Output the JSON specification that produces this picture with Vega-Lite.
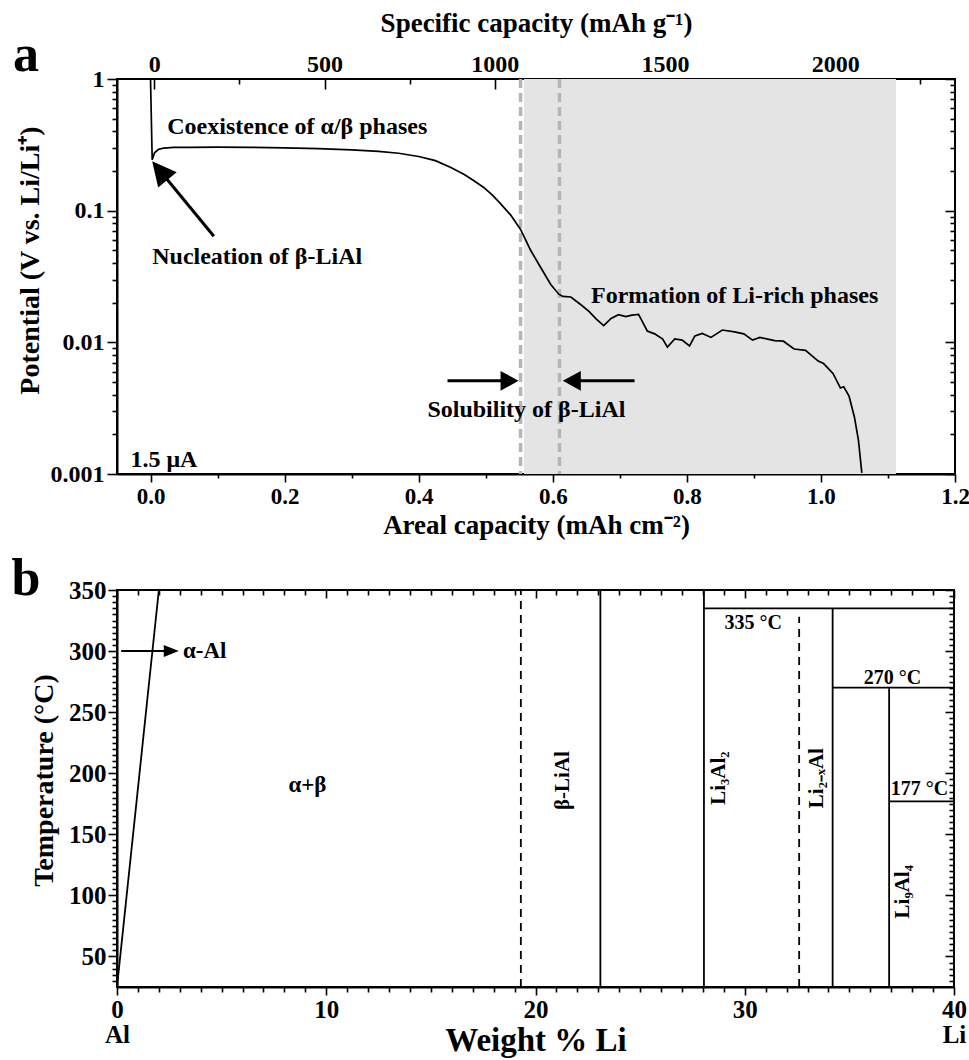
{
  "$schema": "https://vega.github.io/schema/vega-lite/v6.json",
  "padding": {"left": 10, "top": 8, "right": 10, "bottom": 0},
  "bounds": "flush",
  "spacing": 116,
  "config": {
    "font": "Liberation Serif",
    "view": {"stroke": "#000", "strokeWidth": 2},
    "axis": {
      "labelFont": "Liberation Serif", "labelFontWeight": "bold", "labelFontSize": 24, "labelColor": "#000",
      "titleFont": "Liberation Serif", "titleFontWeight": "bold", "titleFontSize": 27, "titleColor": "#000",
      "domainColor": "#000", "domainWidth": 2, "tickColor": "#000", "tickWidth": 1.6,
      "grid": false, "labelOverlap": false, "labelFlush": false, "labelBound": false
    },
    "text": {"font": "Liberation Serif", "fontWeight": "bold", "color": "#000"}
  },
  "datasets": {
    "potential_curve": [
      {"areal": 0, "potential": 1.0},
      {"areal": 0.0025, "potential": 0.244},
      {"areal": 0.006, "potential": 0.275},
      {"areal": 0.012, "potential": 0.292},
      {"areal": 0.02, "potential": 0.299},
      {"areal": 0.035, "potential": 0.302},
      {"areal": 0.06, "potential": 0.303},
      {"areal": 0.1, "potential": 0.304},
      {"areal": 0.15, "potential": 0.303},
      {"areal": 0.2, "potential": 0.300},
      {"areal": 0.25, "potential": 0.296},
      {"areal": 0.3, "potential": 0.290},
      {"areal": 0.34, "potential": 0.282},
      {"areal": 0.37, "potential": 0.273},
      {"areal": 0.4, "potential": 0.258},
      {"areal": 0.425, "potential": 0.240},
      {"areal": 0.448, "potential": 0.213},
      {"areal": 0.468, "potential": 0.188},
      {"areal": 0.483, "potential": 0.168},
      {"areal": 0.497, "potential": 0.150},
      {"areal": 0.51, "potential": 0.131},
      {"areal": 0.522, "potential": 0.113},
      {"areal": 0.537, "potential": 0.093},
      {"areal": 0.552, "potential": 0.072},
      {"areal": 0.567, "potential": 0.050},
      {"areal": 0.582, "potential": 0.037},
      {"areal": 0.597, "potential": 0.0275},
      {"areal": 0.609, "potential": 0.0232},
      {"areal": 0.615, "potential": 0.0223},
      {"areal": 0.627, "potential": 0.0221},
      {"areal": 0.642, "potential": 0.0193},
      {"areal": 0.654, "potential": 0.0172},
      {"areal": 0.665, "potential": 0.0150},
      {"areal": 0.676, "potential": 0.0134},
      {"areal": 0.687, "potential": 0.0152},
      {"areal": 0.698, "potential": 0.0162},
      {"areal": 0.709, "potential": 0.0157},
      {"areal": 0.718, "potential": 0.0161},
      {"areal": 0.728, "potential": 0.0163},
      {"areal": 0.741, "potential": 0.0122},
      {"areal": 0.752, "potential": 0.0116},
      {"areal": 0.764, "potential": 0.0106},
      {"areal": 0.771, "potential": 0.0092},
      {"areal": 0.782, "potential": 0.0106},
      {"areal": 0.793, "potential": 0.0104},
      {"areal": 0.804, "potential": 0.0094},
      {"areal": 0.812, "potential": 0.0112},
      {"areal": 0.823, "potential": 0.0117},
      {"areal": 0.836, "potential": 0.0109},
      {"areal": 0.853, "potential": 0.0124},
      {"areal": 0.871, "potential": 0.0120},
      {"areal": 0.885, "potential": 0.0116},
      {"areal": 0.898, "potential": 0.0104},
      {"areal": 0.909, "potential": 0.0109},
      {"areal": 0.931, "potential": 0.0103},
      {"areal": 0.944, "potential": 0.0102},
      {"areal": 0.960, "potential": 0.0089},
      {"areal": 0.977, "potential": 0.0087},
      {"areal": 0.996, "potential": 0.0072},
      {"areal": 1.004, "potential": 0.0069},
      {"areal": 1.018, "potential": 0.0058},
      {"areal": 1.029, "potential": 0.0045},
      {"areal": 1.034, "potential": 0.0046},
      {"areal": 1.042, "potential": 0.0039},
      {"areal": 1.050, "potential": 0.0027},
      {"areal": 1.056, "potential": 0.0018},
      {"areal": 1.061, "potential": 0.00102}
    ],
    "li_rich_window": [{"from": 0.557, "to": 1.112}],
    "solubility_limits": [{"areal": 0.552}, {"areal": 0.610}],
    "arrow_shafts_a": [
      {"areal": 0.0945, "potential": 0.0639, "areal2": 0.012, "potential2": 0.207},
      {"areal": 0.443, "potential": 0.0051, "areal2": 0.535, "potential2": 0.0051},
      {"areal": 0.722, "potential": 0.0051, "areal2": 0.629, "potential2": 0.0051}
    ],
    "nucleation_tip": [{"areal": 0.0025, "potential": 0.237}],
    "solubility_tip_right": [{"areal": 0.549, "potential": 0.0051}],
    "solubility_tip_left": [{"areal": 0.615, "potential": 0.0051}],
    "notes_a": [
      {"text": "Coexistence of α/β phases", "areal": 0.025, "potential": 0.43},
      {"text": "Nucleation of β-LiAl", "areal": 0.0025, "potential": 0.0445},
      {"text": "Formation of Li-rich phases", "areal": 0.657, "potential": 0.0225},
      {"text": "Solubility of β-LiAl", "areal": 0.413, "potential": 0.00305},
      {"text": "1.5 μA", "areal": -0.03, "potential": 0.00128}
    ],
    "tag_a": [{"tag": "a", "areal": -0.05, "potential": 1}],
    "axis_anchor": [{"v": 0.01}],
    "phase_lines": [
      {"w": 0, "t": 25, "w2": 2, "t2": 350},
      {"w": 23.1, "t": 25, "w2": 23.1, "t2": 350},
      {"w": 28.05, "t": 25, "w2": 28.05, "t2": 350},
      {"w": 28.05, "t": 335, "w2": 40, "t2": 335},
      {"w": 34.2, "t": 25, "w2": 34.2, "t2": 335},
      {"w": 34.2, "t": 270, "w2": 40, "t2": 270},
      {"w": 36.9, "t": 25, "w2": 36.9, "t2": 270},
      {"w": 36.9, "t": 177, "w2": 40, "t2": 177}
    ],
    "solvus_lines": [
      {"w": 19.3, "t": 25, "w2": 19.3, "t2": 350},
      {"w": 32.6, "t": 25, "w2": 32.6, "t2": 328}
    ],
    "alpha_arrow": [{"w": 0.2, "t": 300, "w2": 2.4, "t2": 300}],
    "alpha_tip": [{"w": 2.95, "t": 300}],
    "alpha_label": [{"text": "α-Al", "w": 3.15, "t": 300}],
    "region_labels": [
      {"text": "α+β", "w": 9.1, "t": 190}
    ],
    "temperature_labels": [
      {"text": "335 °C", "w": 30.4, "t": 323},
      {"text": "270 °C", "w": 37.06, "t": 278},
      {"text": "177 °C", "w": 38.35, "t": 187}
    ],
    "compound_labels": [
      {"text": "β-LiAl", "w": 21.3, "t": 194},
      {"text": "Li₃Al₂", "w": 28.78, "t": 196},
      {"text": "Li₂₋ₓAl", "w": 33.47, "t": 196},
      {"text": "Li₉Al₄", "w": 37.55, "t": 103}
    ],
    "tag_b": [{"tag": "b", "w": 0, "t": 350}]
  },
  "vconcat": [
    {
      "width": 838,
      "height": 395,
      "resolve": {"scale": {"x": "independent", "y": "independent"}},
      "layer": [
        {
          "layer": [
            {
              "data": {"name": "li_rich_window"},
              "mark": {"type": "rect", "color": "#e4e4e4"},
              "encoding": {
                "x": {"field": "from", "type": "quantitative", "scale": {"domain": [-0.05, 1.2], "nice": false, "zero": false},
                  "axis": {
                    "orient": "bottom",
                    "values": [0, 0.2, 0.4, 0.6, 0.8, 1.0, 1.2],
                    "format": ".1f",
                    "tickSize": 8,
                    "labelPadding": 3,
                    "labelFontSize": 23,
                    "labelOverlap": false,
                    "title": "Areal capacity (mAh cm⁻²)",
                    "titleY": 59, "titleBaseline": "alphabetic"
                  }},
                "x2": {"field": "to"}
              }
            },
            {
              "data": {"name": "solubility_limits"},
              "mark": {"type": "rule", "color": "#b5b5b5", "strokeWidth": 3.5, "strokeDash": [9, 5]},
              "encoding": {
                "x": {"field": "areal", "type": "quantitative", "scale": {"domain": [-0.05, 1.2], "nice": false, "zero": false}}
              }
            },
            {
              "data": {"name": "potential_curve"},
              "mark": {"type": "line", "color": "#000", "strokeWidth": 1.7, "clip": true},
              "encoding": {
                "x": {"field": "areal", "type": "quantitative", "scale": {"domain": [-0.05, 1.2], "nice": false, "zero": false}},
                "y": {"field": "potential", "type": "quantitative",
                  "scale": {"type": "log", "domain": [0.001, 1], "nice": false},
                  "axis": {
                    "orient": "left",
                    "values": [0.001, 0.01, 0.1, 1],
                    "format": "~g",
                    "tickSize": 10,
                    "labelPadding": 3,
                    "labelOverlap": false,
                    "title": "Potential (V vs. Li/Li⁺)",
                    "titleFontSize": 28,
                    "titleX": -79, "titleY": 181, "titleBaseline": "alphabetic"
                  }}
              }
            },
            {
              "data": {"name": "arrow_shafts_a"},
              "mark": {"type": "rule", "color": "#000", "strokeWidth": 3},
              "encoding": {
                "x": {"field": "areal", "type": "quantitative", "scale": {"domain": [-0.05, 1.2], "nice": false, "zero": false}},
                "y": {"field": "potential", "type": "quantitative", "scale": {"type": "log", "domain": [0.001, 1], "nice": false}},
                "x2": {"field": "areal2"},
                "y2": {"field": "potential2"}
              }
            },
            {
              "data": {"name": "nucleation_tip"},
              "mark": {"type": "point", "shape": "M0,0L-0.5,1L0.5,1Z", "size": 2304, "angle": 320.6, "filled": true, "color": "#000", "opacity": 1},
              "encoding": {
                "x": {"field": "areal", "type": "quantitative", "scale": {"domain": [-0.05, 1.2], "nice": false, "zero": false}},
                "y": {"field": "potential", "type": "quantitative", "scale": {"type": "log", "domain": [0.001, 1], "nice": false}}
              }
            },
            {
              "data": {"name": "solubility_tip_right"},
              "mark": {"type": "point", "shape": "M0,0L-0.55,1L0.55,1Z", "size": 1296, "angle": 90, "filled": true, "color": "#000", "opacity": 1},
              "encoding": {
                "x": {"field": "areal", "type": "quantitative", "scale": {"domain": [-0.05, 1.2], "nice": false, "zero": false}},
                "y": {"field": "potential", "type": "quantitative", "scale": {"type": "log", "domain": [0.001, 1], "nice": false}}
              }
            },
            {
              "data": {"name": "solubility_tip_left"},
              "mark": {"type": "point", "shape": "M0,0L-0.55,1L0.55,1Z", "size": 1296, "angle": 270, "filled": true, "color": "#000", "opacity": 1},
              "encoding": {
                "x": {"field": "areal", "type": "quantitative", "scale": {"domain": [-0.05, 1.2], "nice": false, "zero": false}},
                "y": {"field": "potential", "type": "quantitative", "scale": {"type": "log", "domain": [0.001, 1], "nice": false}}
              }
            },
            {
              "data": {"name": "notes_a"},
              "mark": {"type": "text", "fontSize": 24, "align": "left", "baseline": "middle"},
              "encoding": {
                "x": {"field": "areal", "type": "quantitative", "scale": {"domain": [-0.05, 1.2], "nice": false, "zero": false}},
                "y": {"field": "potential", "type": "quantitative", "scale": {"type": "log", "domain": [0.001, 1], "nice": false}},
                "text": {"field": "text"}
              }
            },
            {
              "data": {"name": "tag_a"},
              "mark": {"type": "text", "fontSize": 52, "align": "center", "baseline": "alphabetic", "dx": -91, "dy": -8},
              "encoding": {
                "x": {"field": "areal", "type": "quantitative", "scale": {"domain": [-0.05, 1.2], "nice": false, "zero": false}},
                "y": {"field": "potential", "type": "quantitative", "scale": {"type": "log", "domain": [0.001, 1], "nice": false}},
                "text": {"field": "tag"}
              }
            }
          ]
        },
        {
          "data": {"name": "axis_anchor"},
          "mark": {"type": "point", "opacity": 0},
          "encoding": {
            "x": {"field": "v", "type": "quantitative", "scale": {"domain": [-0.05, 1.2], "nice": false, "zero": false},
              "axis": {"orient": "bottom", "values": [0.1, 0.3, 0.5, 0.7, 0.9, 1.1], "tickSize": 4, "labels": false, "domain": false, "title": null}},
            "y": {"field": "v", "type": "quantitative", "scale": {"type": "log", "domain": [0.001, 1], "nice": false}, "axis": null}
          }
        },
        {
          "data": {"name": "axis_anchor"},
          "mark": {"type": "point", "opacity": 0},
          "encoding": {
            "x": {"field": "v", "type": "quantitative", "scale": {"domain": [-0.05, 1.2], "nice": false, "zero": false}, "axis": null},
            "y": {"field": "v", "type": "quantitative", "scale": {"type": "log", "domain": [0.001, 1], "nice": false},
              "axis": {"orient": "left",
                "values": [0.002, 0.003, 0.004, 0.005, 0.006, 0.007, 0.008, 0.009, 0.02, 0.03, 0.04, 0.05, 0.06, 0.07, 0.08, 0.09, 0.2, 0.3, 0.4, 0.5, 0.6, 0.7, 0.8, 0.9],
                "tickSize": 5, "labels": false, "domain": false, "title": null}}
          }
        },
        {
          "data": {"name": "axis_anchor"},
          "mark": {"type": "point", "opacity": 0},
          "encoding": {
            "x": {"field": "v", "type": "quantitative",
              "scale": {"domain": [-109.5, 2351.5], "nice": false, "zero": false},
              "axis": {
                "orient": "top",
                "values": [0, 500, 1000, 1500, 2000],
                "format": "d",
                "tickSize": -10,
                "labelPadding": 13,
                "labelOverlap": false,
                "domain": false,
                "title": "Specific capacity (mAh g⁻¹)",
                "titleY": -48, "titleBaseline": "alphabetic"
              }},
            "y": {"field": "v", "type": "quantitative", "scale": {"type": "log", "domain": [0.001, 1], "nice": false}, "axis": null}
          }
        },
        {
          "data": {"name": "axis_anchor"},
          "mark": {"type": "point", "opacity": 0},
          "encoding": {
            "x": {"field": "v", "type": "quantitative",
              "scale": {"domain": [-109.5, 2351.5], "nice": false, "zero": false},
              "axis": {"orient": "top", "values": [250, 750, 1250, 1750, 2250], "tickSize": -5, "labels": false, "domain": false, "title": null}},
            "y": {"field": "v", "type": "quantitative", "scale": {"type": "log", "domain": [0.001, 1], "nice": false}, "axis": null}
          }
        },
        {
          "data": {"name": "axis_anchor"},
          "mark": {"type": "point", "opacity": 0},
          "encoding": {
            "x": {"field": "v", "type": "quantitative", "scale": {"domain": [-0.05, 1.2], "nice": false, "zero": false}, "axis": null},
            "y": {"field": "v", "type": "quantitative", "scale": {"type": "log", "domain": [0.001, 1], "nice": false},
              "axis": {"orient": "right", "values": [0.001, 0.01, 0.1, 1], "tickSize": -10, "labels": false, "domain": false, "title": null}}
          }
        },
        {
          "data": {"name": "axis_anchor"},
          "mark": {"type": "point", "opacity": 0},
          "encoding": {
            "x": {"field": "v", "type": "quantitative", "scale": {"domain": [-0.05, 1.2], "nice": false, "zero": false}, "axis": null},
            "y": {"field": "v", "type": "quantitative", "scale": {"type": "log", "domain": [0.001, 1], "nice": false},
              "axis": {"orient": "right",
                "values": [0.002, 0.003, 0.004, 0.005, 0.006, 0.007, 0.008, 0.009, 0.02, 0.03, 0.04, 0.05, 0.06, 0.07, 0.08, 0.09, 0.2, 0.3, 0.4, 0.5, 0.6, 0.7, 0.8, 0.9],
                "tickSize": -5, "labels": false, "domain": false, "title": null}}
          }
        }
      ]
    },
    {
      "width": 837,
      "height": 397,
      "resolve": {"scale": {"x": "independent", "y": "independent"}},
      "layer": [
        {
          "layer": [
            {
              "data": {"name": "phase_lines"},
              "mark": {"type": "rule", "color": "#000", "strokeWidth": 1.8},
              "encoding": {
                "x": {"field": "w", "type": "quantitative", "scale": {"domain": [0, 40], "nice": false, "zero": false},
                  "axis": {
                    "orient": "bottom",
                    "values": [0, 10, 20, 30, 40],
                    "labelExpr": "datum.value == 0 ? ['0', 'Al'] : datum.value == 40 ? ['40', 'Li'] : datum.label",
                    "tickSize": 8,
                    "labelPadding": 2,
                    "labelFontSize": 25,
                    "labelLineHeight": 25,
                    "labelOverlap": false,
                    "title": "Weight % Li",
                    "titleFontSize": 33,
                    "titleY": 63, "titleBaseline": "alphabetic"
                  }},
                "y": {"field": "t", "type": "quantitative", "scale": {"domain": [25, 350], "nice": false, "zero": false},
                  "axis": {
                    "orient": "left",
                    "values": [50, 100, 150, 200, 250, 300, 350],
                    "tickSize": 9,
                    "labelPadding": 2,
                    "labelFontSize": 25,
                    "labelOverlap": false,
                    "title": "Temperature (°C)",
                    "titleFontSize": 28,
                    "titleX": -65, "titleY": 190, "titleBaseline": "alphabetic"
                  }},
                "x2": {"field": "w2"},
                "y2": {"field": "t2"}
              }
            },
            {
              "data": {"name": "solvus_lines"},
              "mark": {"type": "rule", "color": "#000", "strokeWidth": 1.8, "strokeDash": [8, 6]},
              "encoding": {
                "x": {"field": "w", "type": "quantitative", "scale": {"domain": [0, 40], "nice": false, "zero": false}},
                "y": {"field": "t", "type": "quantitative", "scale": {"domain": [25, 350], "nice": false, "zero": false}},
                "x2": {"field": "w2"},
                "y2": {"field": "t2"}
              }
            },
            {
              "data": {"name": "alpha_arrow"},
              "mark": {"type": "rule", "color": "#000", "strokeWidth": 2},
              "encoding": {
                "x": {"field": "w", "type": "quantitative", "scale": {"domain": [0, 40], "nice": false, "zero": false}},
                "y": {"field": "t", "type": "quantitative", "scale": {"domain": [25, 350], "nice": false, "zero": false}},
                "x2": {"field": "w2"},
                "y2": {"field": "t2"}
              }
            },
            {
              "data": {"name": "alpha_tip"},
              "mark": {"type": "point", "shape": "M0,0L-0.4,1L0.4,1Z", "size": 900, "angle": 90, "filled": true, "color": "#000", "opacity": 1},
              "encoding": {
                "x": {"field": "w", "type": "quantitative", "scale": {"domain": [0, 40], "nice": false, "zero": false}},
                "y": {"field": "t", "type": "quantitative", "scale": {"domain": [25, 350], "nice": false, "zero": false}}
              }
            },
            {
              "data": {"name": "alpha_label"},
              "mark": {"type": "text", "fontSize": 23, "align": "left", "baseline": "middle"},
              "encoding": {
                "x": {"field": "w", "type": "quantitative", "scale": {"domain": [0, 40], "nice": false, "zero": false}},
                "y": {"field": "t", "type": "quantitative", "scale": {"domain": [25, 350], "nice": false, "zero": false}},
                "text": {"field": "text"}
              }
            },
            {
              "data": {"name": "region_labels"},
              "mark": {"type": "text", "fontSize": 23, "align": "center", "baseline": "middle"},
              "encoding": {
                "x": {"field": "w", "type": "quantitative", "scale": {"domain": [0, 40], "nice": false, "zero": false}},
                "y": {"field": "t", "type": "quantitative", "scale": {"domain": [25, 350], "nice": false, "zero": false}},
                "text": {"field": "text"}
              }
            },
            {
              "data": {"name": "temperature_labels"},
              "mark": {"type": "text", "fontSize": 20, "align": "center", "baseline": "middle"},
              "encoding": {
                "x": {"field": "w", "type": "quantitative", "scale": {"domain": [0, 40], "nice": false, "zero": false}},
                "y": {"field": "t", "type": "quantitative", "scale": {"domain": [25, 350], "nice": false, "zero": false}},
                "text": {"field": "text"}
              }
            },
            {
              "data": {"name": "compound_labels"},
              "mark": {"type": "text", "fontSize": 21, "align": "center", "baseline": "middle", "angle": 270},
              "encoding": {
                "x": {"field": "w", "type": "quantitative", "scale": {"domain": [0, 40], "nice": false, "zero": false}},
                "y": {"field": "t", "type": "quantitative", "scale": {"domain": [25, 350], "nice": false, "zero": false}},
                "text": {"field": "text"}
              }
            },
            {
              "data": {"name": "tag_b"},
              "mark": {"type": "text", "fontSize": 52, "align": "center", "baseline": "alphabetic", "dx": -91, "dy": 5},
              "encoding": {
                "x": {"field": "w", "type": "quantitative", "scale": {"domain": [0, 40], "nice": false, "zero": false}},
                "y": {"field": "t", "type": "quantitative", "scale": {"domain": [25, 350], "nice": false, "zero": false}},
                "text": {"field": "tag"}
              }
            }
          ]
        },
        {
          "data": {"name": "axis_anchor"},
          "mark": {"type": "point", "opacity": 0},
          "encoding": {
            "x": {"field": "v", "type": "quantitative", "scale": {"domain": [0, 40], "nice": false, "zero": false},
              "axis": {"orient": "bottom",
                "values": [1, 2, 3, 4, 5, 6, 7, 8, 9, 11, 12, 13, 14, 15, 16, 17, 18, 19, 21, 22, 23, 24, 25, 26, 27, 28, 29, 31, 32, 33, 34, 35, 36, 37, 38, 39],
                "tickSize": 5, "labels": false, "domain": false, "title": null}},
            "y": {"field": "v", "type": "quantitative", "scale": {"domain": [25, 350], "nice": false, "zero": false}, "axis": null}
          }
        },
        {
          "data": {"name": "axis_anchor"},
          "mark": {"type": "point", "opacity": 0},
          "encoding": {
            "x": {"field": "v", "type": "quantitative", "scale": {"domain": [0, 40], "nice": false, "zero": false},
              "axis": {"orient": "top", "values": [0, 10, 20, 30, 40], "tickSize": -8, "labels": false, "domain": false, "title": null}},
            "y": {"field": "v", "type": "quantitative", "scale": {"domain": [25, 350], "nice": false, "zero": false}, "axis": null}
          }
        },
        {
          "data": {"name": "axis_anchor"},
          "mark": {"type": "point", "opacity": 0},
          "encoding": {
            "x": {"field": "v", "type": "quantitative", "scale": {"domain": [0, 40], "nice": false, "zero": false},
              "axis": {"orient": "top",
                "values": [1, 2, 3, 4, 5, 6, 7, 8, 9, 11, 12, 13, 14, 15, 16, 17, 18, 19, 21, 22, 23, 24, 25, 26, 27, 28, 29, 31, 32, 33, 34, 35, 36, 37, 38, 39],
                "tickSize": -5, "labels": false, "domain": false, "title": null}},
            "y": {"field": "v", "type": "quantitative", "scale": {"domain": [25, 350], "nice": false, "zero": false}, "axis": null}
          }
        },
        {
          "data": {"name": "axis_anchor"},
          "mark": {"type": "point", "opacity": 0},
          "encoding": {
            "x": {"field": "v", "type": "quantitative", "scale": {"domain": [0, 40], "nice": false, "zero": false}, "axis": null},
            "y": {"field": "v", "type": "quantitative", "scale": {"domain": [25, 350], "nice": false, "zero": false},
              "axis": {"orient": "left",
                "values": [30, 35, 40, 45, 55, 60, 65, 70, 75, 80, 85, 90, 95, 105, 110, 115, 120, 125, 130, 135, 140, 145, 155, 160, 165, 170, 175, 180, 185, 190, 195, 205, 210, 215, 220, 225, 230, 235, 240, 245, 255, 260, 265, 270, 275, 280, 285, 290, 295, 305, 310, 315, 320, 325, 330, 335, 340, 345],
                "tickSize": 5, "labels": false, "domain": false, "title": null}}
          }
        },
        {
          "data": {"name": "axis_anchor"},
          "mark": {"type": "point", "opacity": 0},
          "encoding": {
            "x": {"field": "v", "type": "quantitative", "scale": {"domain": [0, 40], "nice": false, "zero": false}, "axis": null},
            "y": {"field": "v", "type": "quantitative", "scale": {"domain": [25, 350], "nice": false, "zero": false},
              "axis": {"orient": "right", "values": [50, 100, 150, 200, 250, 300, 350], "tickSize": -9, "labels": false, "domain": false, "title": null}}
          }
        },
        {
          "data": {"name": "axis_anchor"},
          "mark": {"type": "point", "opacity": 0},
          "encoding": {
            "x": {"field": "v", "type": "quantitative", "scale": {"domain": [0, 40], "nice": false, "zero": false}, "axis": null},
            "y": {"field": "v", "type": "quantitative", "scale": {"domain": [25, 350], "nice": false, "zero": false},
              "axis": {"orient": "right",
                "values": [30, 35, 40, 45, 55, 60, 65, 70, 75, 80, 85, 90, 95, 105, 110, 115, 120, 125, 130, 135, 140, 145, 155, 160, 165, 170, 175, 180, 185, 190, 195, 205, 210, 215, 220, 225, 230, 235, 240, 245, 255, 260, 265, 270, 275, 280, 285, 290, 295, 305, 310, 315, 320, 325, 330, 335, 340, 345],
                "tickSize": -5, "labels": false, "domain": false, "title": null}}
          }
        }
      ]
    }
  ]
}
